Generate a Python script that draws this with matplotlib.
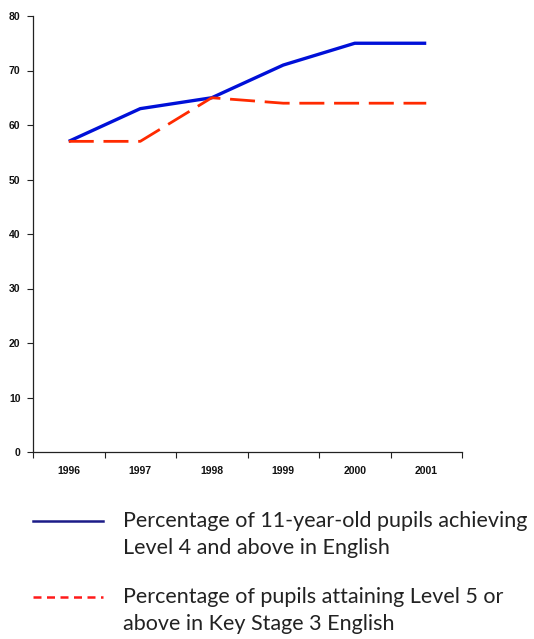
import matplotlib
matplotlib.use('Agg')
import matplotlib.pyplot as plt
from matplotlib.lines import Line2D

years = ['1996', '1997', '1998', '1999', '2000', '2001']
ks2_level4 = [57, 63, 65, 71, 75, 75]
ks3_level5 = [57, 57, 65, 64, 64, 64]
y_ticks = [0, 10, 20, 30, 40, 50, 60, 70, 80]
legend_labels = ['Percentage of 11-year-old pupils achieving\nLevel 4 and above in English',
                 'Percentage of pupils attaining Level 5 or\nabove in Key Stage 3 English']

W, H = 534, 639
fig = plt.figure(figsize=(W / 100, H / 100), dpi=100)
ax = fig.add_axes([33 / W, 1 - 452 / H, (462 - 33) / W, (452 - 16) / H])

xs = list(range(len(years)))
ax.plot(xs, ks2_level4, color='#0010d8', lw=2.4, solid_capstyle='butt')
ax.plot(xs, ks3_level5, color='#ff2a00', lw=2.0, dashes=(9, 3.5))

ax.set_xlim(-0.5, len(years) - 0.5)
ax.set_ylim(0, 80)
ax.set_yticks(y_ticks)
ax.set_xticks([i - 0.5 for i in range(len(years) + 1)])
ax.set_xticklabels([])
ax.set_xticks(xs, minor=True)
ax.set_xticklabels(years, minor=True)

for side in ('top', 'right'):
    ax.spines[side].set_visible(False)
for side in ('left', 'bottom'):
    ax.spines[side].set_color('#222222')
    ax.spines[side].set_linewidth(0.9)

ax.tick_params(axis='y', length=4, width=0.8, color='#222222', pad=5, labelsize=7.5)
ax.tick_params(axis='x', which='major', length=4, width=0.8, color='#222222')
ax.tick_params(axis='x', which='minor', length=0, pad=10, labelsize=7.5)
for lab in ax.get_yticklabels() + ax.get_xticklabels(minor=True):
    lab.set_fontfamily('Liberation Sans')
    lab.set_fontweight('bold')
    lab.set_color('#111111')

# legend below the chart
fig.add_artist(Line2D([33 / W, 103 / W], [1 - 521 / H] * 2, color='#1c1c88', lw=1.8))
fig.add_artist(Line2D([33 / W, 103 / W], [1 - 597 / H] * 2, color='#ff1a1a', lw=1.8,
                      dashes=(3.2, 2.2)))
for txt, ytop in zip(legend_labels, [511, 587]):
    fig.text(123 / W, 1 - ytop / H, txt, family='Lato', fontsize=15.5,
             color='#222222', va='top', ha='left', linespacing=1.42)

fig.savefig('out.png', dpi=100)
